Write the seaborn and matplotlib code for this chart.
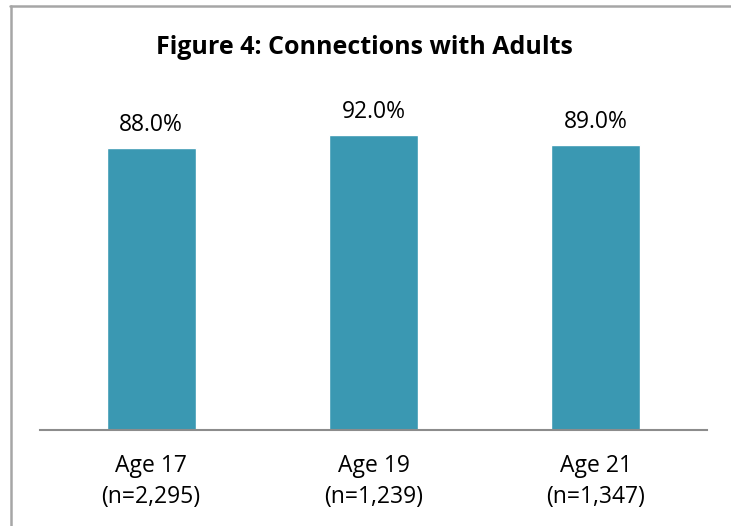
import matplotlib
matplotlib.use("Agg")
import matplotlib.pyplot as plt
from matplotlib.lines import Line2D
import seaborn as sns
import pandas as pd

categories = ["Age 17\n(n=2,295)", "Age 19\n(n=1,239)", "Age 21\n(n=1,347)"]
values = [88.0, 92.0, 89.0]
title = "Figure 4: Connections with Adults"

sns.set_theme(style="white")
plt.rcParams["font.family"] = ["Open Sans", "DejaVu Sans"]

W, H = 731, 526
fig = plt.figure(figsize=(W / 100, H / 100), dpi=100)
ax = fig.add_axes([40 / W, 1 - 430 / H, 667 / W, (430 - 109.5) / H])

df = pd.DataFrame({"group": categories, "pct": values})
sns.barplot(data=df, x="group", y="pct", color="#3A98B2", saturation=1,
            width=0.4, ax=ax)

ax.set_ylim(0, 100)
ax.set_xlim(-0.5, 2.5)
ax.set_xlabel("")
ax.set_ylabel("")
ax.set_yticks([])
for side in ["left", "right", "top"]:
    ax.spines[side].set_visible(False)
ax.spines["bottom"].set_color("#8c8c8c")
ax.spines["bottom"].set_linewidth(1.5)
ax.tick_params(axis="x", length=0, pad=17, labelsize=16.5, labelcolor="#000000")
for lbl in ax.get_xticklabels():
    lbl.set_linespacing(1.42)

for cont in ax.containers:
    ax.bar_label(cont, labels=[f"{v:.1f}%" for v in values], padding=8,
                 fontsize=16.5, color="#000000")

fig.text(364 / W, 1 - 54 / H, title, ha="center", va="baseline",
         fontsize=18, fontweight="bold", color="#000000")

# chart frame: top and left edges
fig.add_artist(Line2D([10 / W, 1], [1 - 5.5 / H, 1 - 5.5 / H],
                      transform=fig.transFigure, color="#a6a6a6", lw=1.8))
fig.add_artist(Line2D([10.5 / W, 10.5 / W], [0, 1 - 5.5 / H],
                      transform=fig.transFigure, color="#a6a6a6", lw=1.8))

fig.savefig("out.png", dpi=100, facecolor="white")
